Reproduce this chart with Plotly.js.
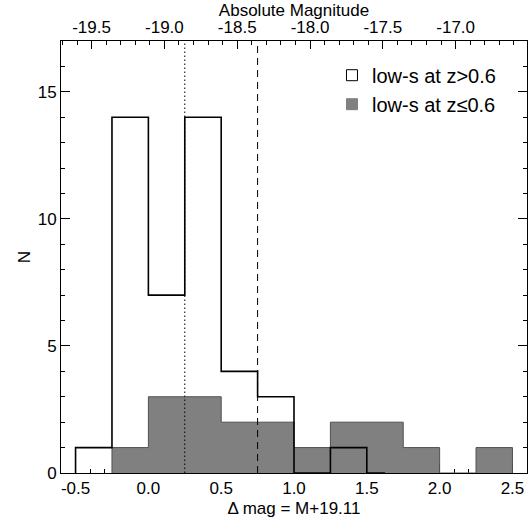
<!DOCTYPE html>
<html>
<head>
<meta charset="utf-8">
<script src="https://cdn.plot.ly/plotly-3.0.1.min.js"></script>
<style>body{margin:0;padding:0;background:#fff}#chart{width:528px;height:519px}</style>
</head>
<body>
<div id="chart"></div>
<script>
// Data (bin width 0.25 in delta mag)
const highzEdges = [-0.5, -0.25, 0.0, 0.25, 0.5, 0.75, 1.0, 1.25, 1.5, 1.625];
const highzCounts = [1, 14, 7, 14, 4, 3, 0, 1, 0];
const lowzEdges = [-0.25, 0.0, 0.25, 0.5, 0.75, 1.0, 1.25, 1.5, 1.75, 2.0, 2.25, 2.5];
const lowzCounts = [1, 3, 3, 2, 2, 1, 2, 2, 1, 0, 1];
const dottedLineX = 0.25;
const dashedLineX = 0.75;
const magOffset = 19.11;
const xRange = [-0.6, 2.6];
const yRange = [0, 17];
const seriesNames = ['low-s at z>0.6', 'low-s at z\u22640.6'];
const bottomTickVals = [-0.5, 0.0, 0.5, 1.0, 1.5, 2.0, 2.5];
const bottomTickText = ['-0.5', '0.0', '0.5', '1.0', '1.5', '2.0', '2.5'];
const topTickVals = [-19.5, -19.0, -18.5, -18.0, -17.5, -17.0];
const topTickText = ['-19.5', '-19.0', '-18.5', '-18.0', '-17.5', '-17.0'];
const yTickVals = [0, 5, 10, 15];
const yTickText = ['0', '5', '10', '15'];

function stepXY(edges, counts) {
  const x = [edges[0]];
  const y = [0];
  for (let i = 0; i < edges.length; i++) {
    x.push(edges[i]);
    y.push(i < counts.length ? counts[i] : 0);
  }
  return {x, y};
}
const lo = stepXY(lowzEdges, lowzCounts);
const hi = stepXY(highzEdges, highzCounts);

const font = {family: 'Liberation Sans, Arial, sans-serif', size: 17, color: '#000'};

const traces = [
  {x: lo.x, y: lo.y, type: 'scatter', mode: 'lines', line: {shape: 'hv', color: '#505050', width: 1},
   fill: 'tozeroy', fillcolor: '#808080', showlegend: false, hoverinfo: 'skip'},
  {x: hi.x, y: hi.y, type: 'scatter', mode: 'lines', line: {shape: 'hv', color: '#000', width: 1.6},
   showlegend: false, hoverinfo: 'skip'},
  {x: [dottedLineX, dottedLineX], y: yRange, type: 'scatter', mode: 'lines',
   line: {color: '#000', width: 1, dash: '1.5px,2.5px'}, showlegend: false, hoverinfo: 'skip'},
  {x: [dashedLineX, dashedLineX], y: yRange, type: 'scatter', mode: 'lines',
   line: {color: '#000', width: 1, dash: '7px,5px'}, showlegend: false, hoverinfo: 'skip'},
  // legend entries
  {x: [null], y: [null], type: 'scatter', mode: 'markers', name: seriesNames[0],
   marker: {symbol: 'square', size: 11, color: '#fff', line: {color: '#000', width: 1}}},
  {x: [null], y: [null], type: 'scatter', mode: 'markers', name: seriesNames[1],
   marker: {symbol: 'square', size: 11, color: '#808080', line: {color: '#808080', width: 1}}},
  // top axis carrier
  {x: xRange.map(v => v - magOffset), y: [null, null], xaxis: 'x2', type: 'scatter', mode: 'lines',
   showlegend: false, hoverinfo: 'skip'}
];

const layout = {
  width: 528, height: 519,
  margin: {l: 61, r: 1, t: 41, b: 46},
  paper_bgcolor: '#fff', plot_bgcolor: '#fff',
  font: font,
  title: {text: 'Absolute Magnitude', font: font, x: 0.5, xref: 'paper', xanchor: 'center',
          y: 1 - 10 / 519, yref: 'container', yanchor: 'middle'},
  showlegend: true,
  legend: {x: 0.5815, y: 0.966, xanchor: 'left', yanchor: 'top', bgcolor: 'rgba(0,0,0,0)',
           font: {family: font.family, size: 20, color: '#000'}, tracegroupgap: 0, itemwidth: 30},
  xaxis: {
    range: xRange, autorange: false, tickmode: 'array', tickvals: bottomTickVals, ticktext: bottomTickText,
    ticks: 'inside', ticklen: 9, tickwidth: 1, tickcolor: '#000',
    minor: {dtick: 0.1, tick0: 0, ticks: 'inside', ticklen: 4, tickcolor: '#000'},
    showline: true, linecolor: '#000', linewidth: 1, mirror: false,
    showgrid: false, zeroline: false, layer: 'below traces',
    title: {text: '\u0394 mag = M+19.11', font: font, standoff: 4},
    tickfont: font
  },
  xaxis2: {
    overlaying: 'x', side: 'top', anchor: 'y',
    range: xRange.map(v => v - magOffset), autorange: false,
    tickmode: 'array', tickvals: topTickVals, ticktext: topTickText,
    ticks: 'inside', ticklen: 8, tickwidth: 1, tickcolor: '#000',
    minor: {dtick: 0.1, tick0: 0, ticks: 'inside', ticklen: 4, tickcolor: '#000'},
    showline: true, linecolor: '#000', linewidth: 1,
    showgrid: false, zeroline: false, layer: 'below traces',
    tickfont: font
  },
  yaxis: {
    range: yRange, autorange: false, tickmode: 'array', tickvals: yTickVals, ticktext: yTickText,
    ticks: 'inside', ticklen: 9, tickwidth: 1, tickcolor: '#000',
    minor: {dtick: 1, tick0: 0, ticks: 'inside', ticklen: 4, tickcolor: '#000'},
    showline: true, linecolor: '#000', linewidth: 1, mirror: 'ticks',
    showgrid: false, zeroline: false, layer: 'below traces',
    title: {text: 'N', font: font, standoff: 2},
    tickfont: font
  }
};

Plotly.newPlot('chart', traces, layout, {staticPlot: true, displayModeBar: false});
</script>
</body>
</html>
